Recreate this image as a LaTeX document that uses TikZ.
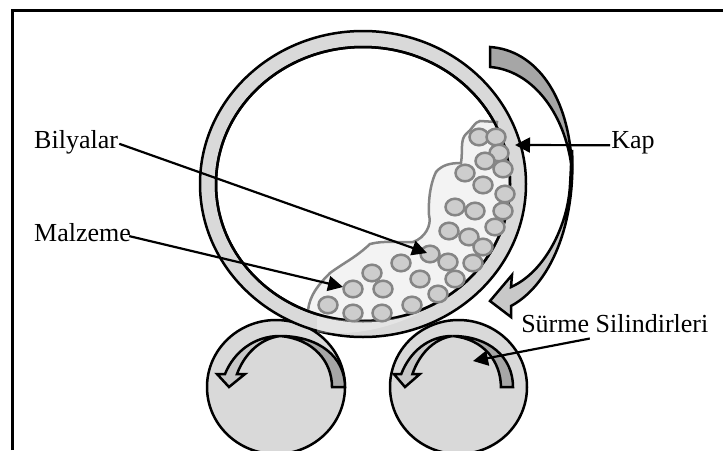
\documentclass[tikz,border=0pt]{standalone}
\usepackage{fontspec}
\setmainfont{Liberation Serif}
\usetikzlibrary{arrows.meta}
\definecolor{ringgray}{HTML}{D9D9D9}
\definecolor{arrowgray}{HTML}{C8C8C8}
\definecolor{darkgray}{HTML}{A6A6A6}
\definecolor{ballgray}{HTML}{CDCDCD}
\definecolor{edgegray}{HTML}{858585}
\definecolor{blobgray}{HTML}{F3F3F3}
\begin{document}
\begin{tikzpicture}[x=1pt, y=-1pt, line width=2.5pt,
    every node/.style={font=\fontsize{26}{30}\selectfont, inner sep=0pt, anchor=base west},
    pointer/.style={line width=2.2pt, -{Triangle[length=15pt,width=15pt]}},
    ball/.style={draw=edgegray, fill=ballgray},
    light/.style={draw, fill=ringgray},
    shaft/.style={draw, fill=arrowgray},
    dark/.style={draw, fill=darkgray}]
    \useasboundingbox (0,0) rectangle (723,450);
    \draw[line width=2.8pt] (12.5,450) -- (12.5,10.5) -- (723,10.5);
    % rollers
    \draw[light] (276,387) ellipse [x radius=69, y radius=67];
    \draw[light] (458.5,387) ellipse [x radius=68.5, y radius=67];
    \foreach \tipx/\wid in {229/116, 405/108} {
        \begin{scope}[shift={(\tipx,387)}, xscale=\wid/116]
            \draw[shaft] (51,-51) .. controls (25,-51) and (5,-35) .. (-4,-13) -- (-12,-13) -- (0,0) -- (16,-13) -- (8,-13) .. controls (15,-32) and (30,-48) .. (51,-51) -- cycle;
            \draw[dark] (51,-51) .. controls (90,-51) and (116,-30) .. (116,0) -- (103,0) .. controls (103,-25) and (85,-48) .. (51,-51) -- cycle;
        \end{scope}
    }
    % ring
    \draw[light, even odd rule] (363,184) ellipse [x radius=163, y radius=153] (363,184) ellipse [x radius=147, y radius=137];
    % material
    \draw[draw=edgegray, fill=blobgray] (308,310) .. controls (310,295) and (318,285) .. (330,273) .. controls (345,262) and (355,258) .. (370,244) .. controls (385,240) and (400,243) .. (413,242) .. controls (425,238) and (432,225) .. (429,215) .. controls (428,195) and (432,180) .. (436,172) .. controls (442,165) and (450,163) .. (461,163) .. controls (463,150) and (460,140) .. (466,134) .. controls (472,130) and (474,122) .. (480,121) -- (497,122) -- plot[domain=-25:112, samples=40] ({363+147*cos(\x)},{184+137*sin(\x)}) -- cycle;
    \draw (363,184) ellipse [x radius=147, y radius=137];
    \fill[white, opacity=.3] (317,316) -- (317,332) .. controls (350,336) and (385,330) .. (420,313) .. controls (385,323) and (350,323) .. (317,316) -- cycle;
    \foreach \bx/\by in {479/137, 496/137, 499/153, 485/161, 503/169, 465/173, 483/185, 505/194, 455/207, 475/211, 503/211, 495/227, 449/231, 469/237, 483/247, 430/254, 401/263, 448/262, 473/263, 372/273, 420/279, 455/279, 353/289, 383/289, 438/294, 412/305, 328/305, 353/313, 382/313} {
        \draw[ball] (\bx,\by) ellipse [x radius=9.5, y radius=8.3];
    }
    % turning arrow
    \draw[shaft] (572,150) .. controls (576,225) and (550,285) .. (511,306) -- (511,317) -- (490,301) -- (512,275) -- (511,287) .. controls (545,272) and (568,225) .. (570,185) .. controls (571,170) and (571,160) .. (572,150) -- cycle;
    \draw[dark] (490,47) .. controls (535,50) and (570,95) .. (572,170) .. controls (565,110) and (530,70) .. (490,67) -- cycle;
    % labels
    \node (bilyalar) at (33,148) {Bilyalar};
    \node (malzeme) at (33,241) {Malzeme};
    \node (kap) at (610,148) {Kap};
    \node (silindir) at (520,332) {Sürme Silindirleri};
    \coordinate (ballend) at (427,253);
    \coordinate (blobend) at (343,287);
    \coordinate (kapend) at (515,145);
    \coordinate (silindirend) at (473,361);
    \draw[pointer] ([yshift=-2pt]bilyalar.east) -- (ballend);
    \draw[pointer] ([xshift=-3pt,yshift=-4pt]malzeme.east) -- (blobend);
    \draw[pointer] ([yshift=-3pt]kap.west) -- (kapend);
    \draw[pointer] ([xshift=-25pt,yshift=-5pt]silindir.south) -- (silindirend);
\end{tikzpicture}
\end{document}
